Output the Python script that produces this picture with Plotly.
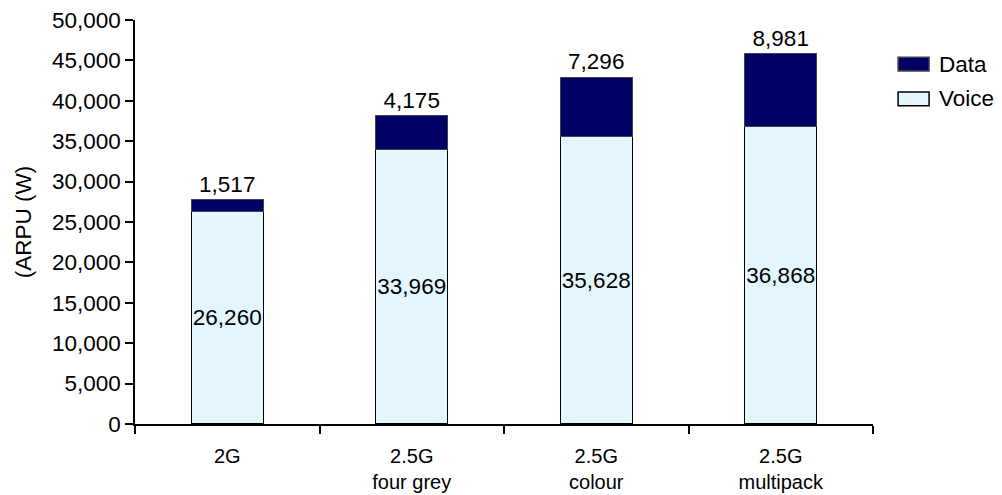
import plotly.graph_objects as go

categories = ["2G", "2.5G<br>four grey", "2.5G<br>colour", "2.5G<br>multipack"]
voice_arpu = [26260, 33969, 35628, 36868]
data_arpu = [1517, 4175, 7296, 8981]
series_names = ["Data", "Voice"]

FONT = "Liberation Sans, Arial, sans-serif"
FS = 22.5
VOICE_COLOR = "#E3F5FD"
DATA_COLOR = "#000066"

fig = go.Figure()
fig.add_trace(go.Bar(
    x=categories, y=voice_arpu, name="Voice",
    marker=dict(color=VOICE_COLOR, line=dict(color="#000000", width=1.2)),
    text=[f"{v:,}" for v in voice_arpu],
    textposition="inside", insidetextanchor="middle", textangle=0,
    textfont=dict(family=FONT, size=FS, color="#000000"),
    constraintext="none",
))
fig.add_trace(go.Bar(
    x=categories, y=data_arpu, name="Data",
    marker=dict(color=DATA_COLOR, line=dict(color="#444444", width=1.2)),
    text=[f"{v:,}" for v in data_arpu],
    textposition="outside", textangle=0,
    textfont=dict(family=FONT, size=FS, color="#000000"),
    constraintext="none", cliponaxis=False,
))

# Legend drawn by hand: wide rectangular swatches next to the labels
swatches = [(0.908, 0.874, DATA_COLOR, "#444444"), (0.822, 0.788, VOICE_COLOR, "#000000")]
for (y1, y0, fill, edge), name in zip(swatches, series_names):
    fig.add_shape(type="rect", xref="paper", yref="paper",
                  x0=1.034, x1=1.076, y0=y0, y1=y1,
                  fillcolor=fill, line=dict(color=edge, width=1.5))
    fig.add_annotation(xref="paper", yref="paper", x=1.087, y=(y0 + y1) / 2,
                       text=name, showarrow=False, xanchor="left", yanchor="middle",
                       font=dict(family=FONT, size=FS, color="#000000"))

fig.update_layout(
    width=1002, height=495,
    margin=dict(l=135, r=129, t=20, b=71, autoexpand=False),
    barmode="stack", bargap=0.61,
    plot_bgcolor="white", paper_bgcolor="white",
    font=dict(family=FONT, size=FS, color="#000000"),
    showlegend=False,
)
fig.update_yaxes(
    range=[0, 50000], dtick=5000, tickformat=",",
    showline=True, linecolor="#000000", linewidth=1.5,
    ticks="outside", ticklen=8, tickcolor="#000000", tickwidth=1.5,
    showgrid=False, zeroline=False,
    title=dict(text="(ARPU (W)", standoff=14, font=dict(size=FS)),
)
fig.update_xaxes(
    showline=True, linecolor="#000000", linewidth=1.5,
    ticks="outside", tickson="boundaries", ticklen=8,
    tickcolor="#000000", tickwidth=1.5, showgrid=False,
    tickfont=dict(size=20), ticklabelstandoff=13,
)

fig.write_html("out.html")
